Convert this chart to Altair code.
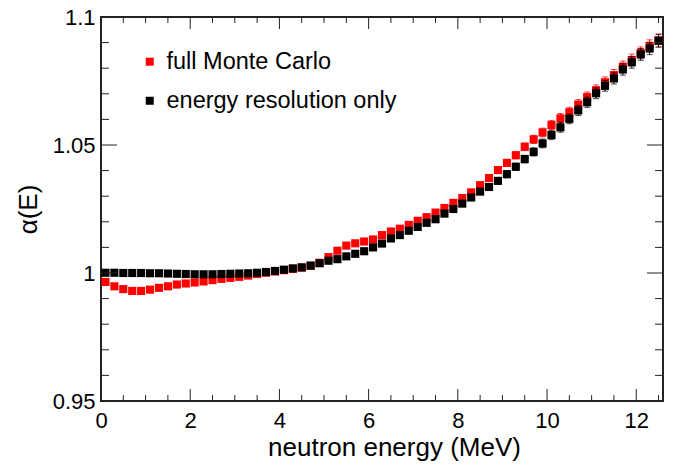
import altair as alt
import pandas as pd

# bin centres (MeV)
energy = [0.1, 0.3, 0.5, 0.7, 0.9, 1.1, 1.3, 1.5, 1.7, 1.9,
          2.1, 2.3, 2.5, 2.7, 2.9, 3.1, 3.3, 3.5, 3.7, 3.9,
          4.1, 4.3, 4.5, 4.7, 4.9, 5.1, 5.3, 5.5, 5.7, 5.9,
          6.1, 6.3, 6.5, 6.7, 6.9, 7.1, 7.3, 7.5, 7.7, 7.9,
          8.1, 8.3, 8.5, 8.7, 8.9, 9.1, 9.3, 9.5, 9.7, 9.9,
          10.1, 10.3, 10.5, 10.7, 10.9, 11.1, 11.3, 11.5, 11.7, 11.9,
          12.1, 12.3, 12.5]

full_mc = [0.9965, 0.9948, 0.9937, 0.9930, 0.9930, 0.9935, 0.9942, 0.9948, 0.9955, 0.9959,
           0.9963, 0.9967, 0.9972, 0.9977, 0.9981, 0.9985, 0.9990, 0.9996, 1.0001, 1.0006,
           1.0011, 1.0016, 1.0021, 1.0028, 1.0040, 1.0062, 1.0087, 1.0107, 1.0116, 1.0123,
           1.0131, 1.0148, 1.0162, 1.0173, 1.0188, 1.0204, 1.0218, 1.0236, 1.0254, 1.0274,
           1.0293, 1.0315, 1.0343, 1.0371, 1.0402, 1.0430, 1.0460, 1.0493, 1.0522, 1.0549,
           1.0578, 1.0604, 1.0628, 1.0658, 1.0687, 1.0714, 1.0745, 1.0773, 1.0806, 1.0832,
           1.0860, 1.0887, 1.0909]

eres_only = [1.0001, 1.0001, 1.0000, 1.0000, 1.0000, 0.9999, 0.9999, 0.9998, 0.9997, 0.9996,
             0.9995, 0.9995, 0.9995, 0.9996, 0.9997, 0.9998, 0.9999, 1.0001, 1.0004, 1.0008,
             1.0013, 1.0018, 1.0022, 1.0029, 1.0038, 1.0048, 1.0054, 1.0065, 1.0075, 1.0085,
             1.0100, 1.0115, 1.0135, 1.0148, 1.0165, 1.0180, 1.0196, 1.0210, 1.0232, 1.0250,
             1.0271, 1.0295, 1.0318, 1.0336, 1.0360, 1.0386, 1.0415, 1.0445, 1.0473, 1.0506,
             1.0539, 1.0569, 1.0602, 1.0635, 1.0667, 1.0702, 1.0731, 1.0760, 1.0795, 1.0823,
             1.0854, 1.0877, 1.0907]

err = [0.0004, 0.0004, 0.0004, 0.0004, 0.0004, 0.0004, 0.0004, 0.0004, 0.0004, 0.0004,
       0.0004, 0.0004, 0.0004, 0.0004, 0.0004, 0.0004, 0.0004, 0.0004, 0.0004, 0.0004,
       0.0004, 0.0004, 0.0005, 0.0005, 0.0005, 0.0006, 0.0006, 0.0006, 0.0007, 0.0007,
       0.0007, 0.0008, 0.0008, 0.0008, 0.0009, 0.0009, 0.0009, 0.0010, 0.0010, 0.0010,
       0.0011, 0.0011, 0.0012, 0.0012, 0.0013, 0.0014, 0.0014, 0.0015, 0.0016, 0.0017,
       0.0018, 0.0019, 0.0019, 0.0020, 0.0020, 0.0021, 0.0021, 0.0022, 0.0022, 0.0023,
       0.0023, 0.0024, 0.0025]

series_names = ["full Monte Carlo", "energy resolution only"]
series_colors = ["#ff0000", "#000000"]

x_major = [0, 2, 4, 6, 8, 10, 12]
x_minor = [0.5, 1, 1.5, 2.5, 3, 3.5, 4.5, 5, 5.5, 6.5, 7, 7.5, 8.5, 9, 9.5,
           10.5, 11, 11.5, 12.5]
y_major = [0.95, 1.0, 1.05, 1.1]
y_minor = [0.96, 0.97, 0.98, 0.99, 1.01, 1.02, 1.03, 1.04, 1.06, 1.07, 1.08, 1.09]

W, H = 562, 384
FONT = "Liberation Sans"

rows = []
for name, vals in zip(series_names, [full_mc, eres_only]):
    for e, v, s in zip(energy, vals, err):
        rows.append({"E": e, "alpha": v, "lo": v - s, "hi": v + s, "series": name})
df = pd.DataFrame(rows)

xs = alt.Scale(domain=[0, 12.6], nice=False, zero=False)
ys = alt.Scale(domain=[0.95, 1.1], nice=False, zero=False)
cs = alt.Scale(domain=series_names, range=series_colors)

legend = alt.Legend(
    title=None, orient="none", legendX=37, legendY=33,
    symbolType="square", symbolSize=64, symbolStrokeWidth=0, symbolOpacity=1,
    labelFontSize=23.5, labelFont=FONT, labelColor="black", labelLimit=500,
    labelOffset=5, rowPadding=14, padding=0)
color = alt.Color("series:N", scale=cs, legend=legend)

x_axis = alt.Axis(values=x_major, format="~g", ticks=False, domain=False, grid=False,
                  labelFontSize=22, labelFont=FONT, labelColor="black", labelPadding=9,
                  title="neutron energy (MeV)", titleFontSize=26, titleFont=FONT,
                  titleFontWeight="normal", titleColor="black", titleX=293, titleY=33,
                  labelFlush=False)
y_axis = alt.Axis(values=y_major, format="~g", ticks=False, domain=False, grid=False,
                  labelFontSize=22, labelFont=FONT, labelColor="black", labelPadding=6,
                  title="α(E)", titleFontSize=26, titleFont=FONT,
                  titleFontWeight="normal", titleColor="black", titleX=-60,
                  labelFlush=False)

base = alt.Chart(df)

layers = []
for name in series_names:
    sub = base.transform_filter(alt.datum.series == name)
    bars = sub.mark_rule(strokeWidth=1).encode(
        x=alt.X("E:Q", scale=xs, axis=x_axis),
        y=alt.Y("lo:Q", scale=ys, axis=y_axis),
        y2="hi:Q",
        color=color,
    )
    caps_hi = sub.mark_tick(orient="horizontal", size=6, thickness=1).encode(
        x=alt.X("E:Q", scale=xs), y=alt.Y("hi:Q", scale=ys), color=color,
    )
    caps_lo = sub.mark_tick(orient="horizontal", size=6, thickness=1).encode(
        x=alt.X("E:Q", scale=xs), y=alt.Y("lo:Q", scale=ys), color=color,
    )
    pts = sub.mark_square(size=66, opacity=1, strokeWidth=0).encode(
        x=alt.X("E:Q", scale=xs), y=alt.Y("alpha:Q", scale=ys), color=color,
    )
    layers += [bars, caps_hi, caps_lo, pts]

# inward-pointing frame ticks (ROOT style)
def yticks(vals, length):
    d = pd.DataFrame({"v": vals})
    left = alt.Chart(d).mark_rule(color="#222", strokeWidth=1).encode(
        y=alt.Y("v:Q", scale=ys), x=alt.value(0), x2=alt.value(length))
    right = alt.Chart(d).mark_rule(color="#222", strokeWidth=1).encode(
        y=alt.Y("v:Q", scale=ys), x=alt.value(W - length), x2=alt.value(W))
    return [left, right]

def xticks(vals, length):
    d = pd.DataFrame({"v": vals})
    bottom = alt.Chart(d).mark_rule(color="#222", strokeWidth=1).encode(
        x=alt.X("v:Q", scale=xs), y=alt.value(H), y2=alt.value(H - length))
    top = alt.Chart(d).mark_rule(color="#222", strokeWidth=1).encode(
        x=alt.X("v:Q", scale=xs), y=alt.value(0), y2=alt.value(length))
    return [bottom, top]

tick_layers = yticks(y_major, 16) + yticks(y_minor, 8) + xticks(x_major, 12) + xticks(x_minor, 6)

chart = alt.layer(*layers, *tick_layers).properties(
    width=W, height=H,
    autosize=alt.AutoSizeParams(type="none"),
    padding={"left": 101, "top": 17, "right": 12, "bottom": 64},
    background="white",
).configure_view(stroke="#222", strokeWidth=2).configure_axis(grid=False)

chart.save("out.html", embed_options={"renderer": "svg", "actions": False})
